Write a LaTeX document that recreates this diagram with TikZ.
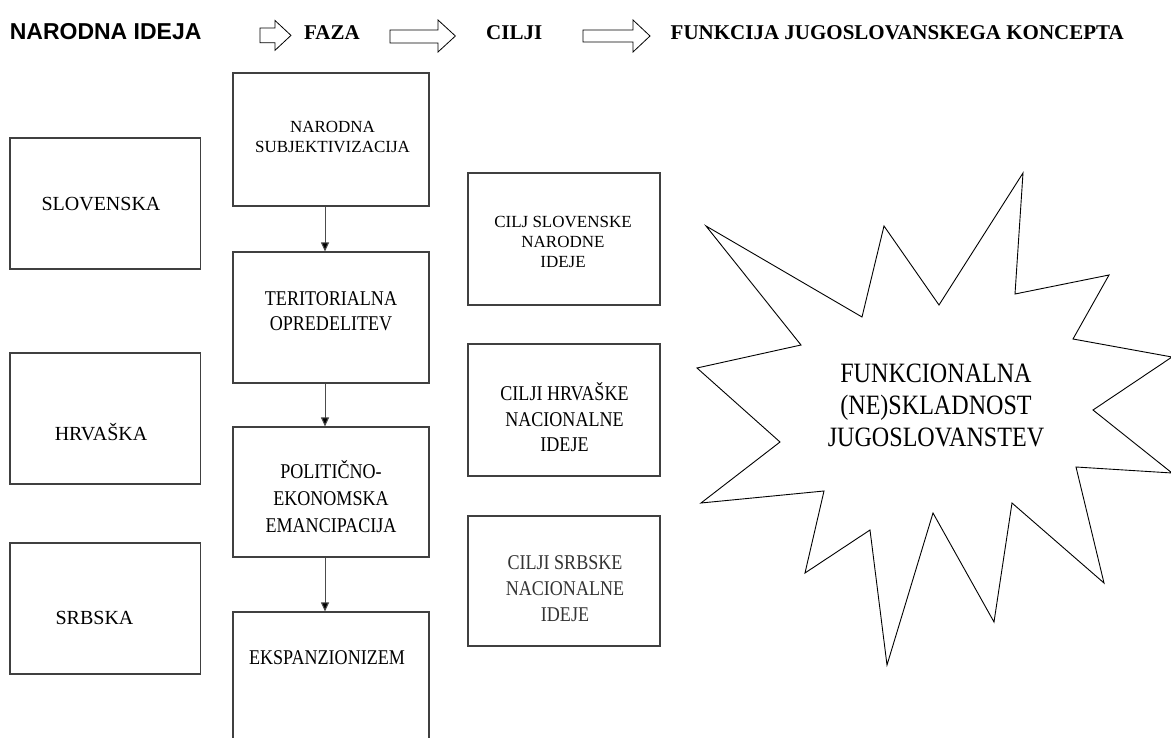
\documentclass[tikz,border=0pt]{standalone}
\usepackage{fontspec}
\setmainfont{Liberation Serif}
\newfontfamily\condf[FakeStretch=0.86]{Liberation Serif}
\newfontfamily\hsansf{Liberation Sans}
\usetikzlibrary{arrows.meta}
\begin{document}
\begin{tikzpicture}[x=1pt,y=-1pt,
  box/.style={draw=black!75, line width=1.1pt, rectangle, inner sep=0pt},
  smalltxt/.style={font=\fontsize{17}{20}\selectfont, align=center, inner sep=0pt},
  bigtxt/.style={font=\fontsize{20}{24}\selectfont, inner sep=0pt},
  condtxt/.style={font=\condf\fontsize{21}{25.5}\selectfont, align=center, inner sep=0pt},
  flow/.style={draw=black!70, line width=1pt, -{Triangle[length=9pt,width=8pt,fill=black]}},
  blockarrow/.style={draw=black, line width=0.8pt, fill=white, line join=miter},
  hdr/.style={font=\bfseries\fontsize{21}{25}\selectfont, anchor=west, inner sep=0pt}
]
\useasboundingbox (0,0) rectangle (1171,738);

% header
\node[hdr, font=\hsansf\bfseries\fontsize{23}{27}\selectfont] (h0) at (9.6,32) {NARODNA IDEJA};
\node[hdr] (h1) at (304,33) {FAZA};
\node[hdr] (h2) at (486,33) {CILJI};
\node[hdr] (h3) at (670.5,33) {FUNKCIJA JUGOSLOVANSKEGA KONCEPTA};
\draw[blockarrow] (260,28) -- (275,28) -- (275,20.5) -- (291,35.4) -- (275,50.3) -- (275,42.8) -- (260,42.8) -- cycle;
\draw[blockarrow] (390,30) -- (438,30) -- (438,20) -- (455.4,36) -- (438,52) -- (438,43) -- (390,43) -- cycle;
\draw[blockarrow] (583,30) -- (633,30) -- (633,20) -- (650,36) -- (633,52) -- (633,42) -- (583,42) -- cycle;

% left column
\node[box, minimum width=190.7pt, minimum height=131pt] (l1) at (105.3,203.5) {};
\node[box, minimum width=190.7pt, minimum height=131pt] (l2) at (105.3,418.5) {};
\node[box, minimum width=190.7pt, minimum height=131pt] (l3) at (105.3,608.5) {};
\node[bigtxt] (l1t) at (101,204) {SLOVENSKA};
\node[bigtxt] (l2t) at (101,432) {HRVAŠKA};
\node[bigtxt] (l3t) at (94.5,618) {SRBSKA};

% middle column
\node[box, minimum width=196pt, minimum height=133pt] (m1) at (331,139.5) {};
\node[box, minimum width=196pt, minimum height=131pt] (m2) at (331,317.5) {};
\node[box, minimum width=196pt, minimum height=130pt] (m3) at (331,492) {};
\node[box, minimum width=196pt, minimum height=133pt] (m4) at (331,678.5) {};
\node[smalltxt] (m1t) at (332.5,137) {NARODNA\\SUBJEKTIVIZACIJA};
\node[condtxt, font=\condf\fontsize{21}{25}\selectfont] (m2t) at (331,311.5) {TERITORIALNA\\OPREDELITEV};
\node[condtxt, font=\condf\fontsize{21}{27}\selectfont] (m3t) at (331,497) {POLITIČNO-\\EKONOMSKA\\EMANCIPACIJA};
\node[condtxt] (m4t) at (327,658) {EKSPANZIONIZEM};
\draw[flow] ([xshift=-6pt]m1.south) -- ([xshift=-6pt]m2.north);
\draw[flow] ([xshift=-6pt]m2.south) -- ([xshift=-6pt]m3.north);
\draw[flow] ([xshift=-6pt]m3.south) -- ([xshift=-6pt]m4.north);

% right column
\node[box, minimum width=192pt, minimum height=132pt] (r1) at (564,239) {};
\node[box, minimum width=192pt, minimum height=132pt] (r2) at (564,410) {};
\node[box, minimum width=192pt, minimum height=130pt] (r3) at (564,581) {};
\node[smalltxt] (r1t) at (563,242) {CILJ SLOVENSKE\\NARODNE\\IDEJE};
\node[condtxt] (r2t) at (564.5,417.5) {CILJI HRVAŠKE\\NACIONALNE\\IDEJE};
\node[condtxt, font=\condf\fontsize{21}{26}\selectfont, text=black!80] (r3t) at (565,589) {CILJI SRBSKE\\NACIONALNE\\IDEJE};

% starburst
\draw[line width=0.9pt, line join=miter]
 (706,226) -- (862,317) -- (884,226) -- (939,305) -- (1023,173) -- (1015,294)
 -- (1109,275) -- (1073,339) -- (1172,357) -- (1093,410) -- (1172,473) -- (1076,467)
 -- (1104,583) -- (1012,503) -- (994,622) -- (933,513) -- (887,665) -- (870,530)
 -- (805,573) -- (824,491) -- (701,503) -- (780,442) -- (697,368) -- (801,345) -- cycle;
\node[condtxt, font=\condf\fontsize{28}{32}\selectfont] (burst) at (936,405) {FUNKCIONALNA\\(NE)SKLADNOST\\JUGOSLOVANSTEV};
\end{tikzpicture}
\end{document}
